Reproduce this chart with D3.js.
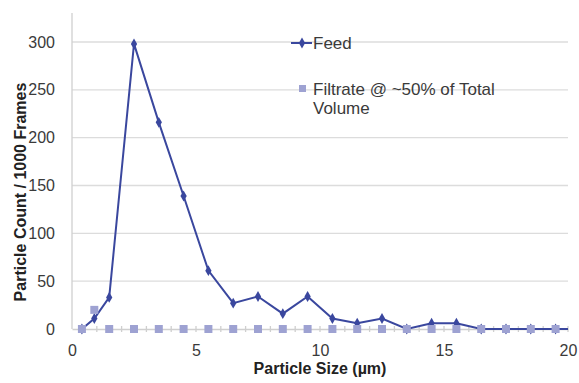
<!DOCTYPE html>
<html>
<head>
<meta charset="utf-8">
<script src="https://cdn.jsdelivr.net/npm/d3@7"></script>
<style>
  body { margin: 0; background: #fff; }
  text { font-family: "Liberation Sans", Arial, sans-serif; }
</style>
</head>
<body>
<svg id="chart" width="579" height="383"></svg>
<script>
const sizes = [0.4, 0.9, 1.5, 2.5, 3.5, 4.5, 5.5, 6.5, 7.5, 8.5, 9.5, 10.5, 11.5, 12.5, 13.5, 14.5, 15.5, 16.5, 17.5, 18.5, 19.5];
const feedCounts = [0, 11, 33, 298, 216, 139, 61, 27, 34, 16, 34, 11, 6, 11, 0, 6, 6, 0, 0, 0, 0];
const filtrateCounts = [0, 20, 0, 0, 0, 0, 0, 0, 0, 0, 0, 0, 0, 0, 0, 0, 0, 0, 0, 0, 0];
const xTicks = [0, 5, 10, 15, 20];
const yTicks = [0, 50, 100, 150, 200, 250, 300];

const svg = d3.select("#chart");
const mLeft = 72, mRight = 568, mTop = 13, mBottom = 329;

const x = d3.scaleLinear().domain([0, 20]).range([mLeft, mRight]);
const y = d3.scaleLinear().domain([0, 300]).range([mBottom, 42]);

// gridlines
svg.append("g").selectAll("line").data(yTicks.filter(d => d > 0)).join("line")
  .attr("x1", mLeft).attr("x2", mRight)
  .attr("y1", d => y(d)).attr("y2", d => y(d))
  .attr("stroke", "#dcdcdc").attr("stroke-width", 1.3);

// y axis line
svg.append("line").attr("x1", mLeft).attr("x2", mLeft).attr("y1", mTop).attr("y2", mBottom)
  .attr("stroke", "#cfcfcf").attr("stroke-width", 1.3);

// x axis with unit ticks
const xAxis = svg.append("g").attr("transform", `translate(0,${mBottom})`)
  .call(d3.axisBottom(x).tickValues(xTicks).tickSize(0).tickPadding(16));
xAxis.select(".domain").attr("stroke", "#cfcfcf").attr("stroke-width", 1.3);
xAxis.selectAll("text").attr("font-size", 16).attr("fill", "#3a3a3a");
svg.append("g").selectAll("line").data(d3.range(1, 21)).join("line")
  .attr("x1", d => x(d)).attr("x2", d => x(d))
  .attr("y1", mBottom - 3).attr("y2", mBottom + 3)
  .attr("stroke", "#cfcfcf").attr("stroke-width", 1.3);

const yAxis = svg.append("g").attr("transform", `translate(${mLeft},0)`)
  .call(d3.axisLeft(y).tickValues(yTicks).tickSize(0).tickPadding(17));
yAxis.select(".domain").remove();
yAxis.selectAll("text").attr("font-size", 16).attr("fill", "#3a3a3a");

const feed = sizes.map((s, i) => [s, feedCounts[i]]);
const filtrate = sizes.map((s, i) => [s, filtrateCounts[i]]);
const blue = "#3a479e", lilac = "#9ea2d2";

// feed line extends to the right edge of the plot
svg.append("path").datum(feed.concat([[20, 0]]))
  .attr("fill", "none").attr("stroke", blue).attr("stroke-width", 2)
  .attr("d", d3.line().x(d => x(d[0])).y(d => y(d[1])));

const diamond = d3.symbol().type(d3.symbolDiamond).size(34);
svg.append("g").selectAll("path").data(feed).join("path")
  .attr("transform", d => `translate(${x(d[0])},${y(d[1])})`)
  .attr("d", diamond).attr("fill", blue);

svg.append("g").selectAll("rect").data(filtrate).join("rect")
  .attr("x", d => x(d[0]) - 4).attr("y", d => y(d[1]) - 4)
  .attr("width", 8).attr("height", 8).attr("fill", lilac);

// legend
const lg = svg.append("g");
lg.append("line").attr("x1", 291).attr("x2", 312).attr("y1", 43).attr("y2", 43)
  .attr("stroke", blue).attr("stroke-width", 2);
lg.append("path").attr("transform", "translate(302,43)").attr("d", diamond).attr("fill", blue);
lg.append("text").attr("x", 313).attr("y", 49).attr("font-size", 17).attr("fill", "#3a3a3a").text("Feed");
lg.append("rect").attr("x", 299).attr("y", 85).attr("width", 7).attr("height", 7).attr("fill", lilac);
lg.append("text").attr("x", 313).attr("y", 95).attr("font-size", 17).attr("fill", "#3a3a3a").text("Filtrate @ ~50% of Total");
lg.append("text").attr("x", 313).attr("y", 114).attr("font-size", 17).attr("fill", "#3a3a3a").text("Volume");

// axis titles
svg.append("text").attr("x", 320).attr("y", 374)
  .attr("text-anchor", "middle").attr("font-size", 16).attr("font-weight", "bold").attr("fill", "#222")
  .text("Particle Size (µm)");
svg.append("text").attr("transform", "translate(26,192) rotate(-90)")
  .attr("text-anchor", "middle").attr("font-size", 16).attr("font-weight", "bold").attr("fill", "#222")
  .text("Particle Count / 1000 Frames");
</script>
</body>
</html>
